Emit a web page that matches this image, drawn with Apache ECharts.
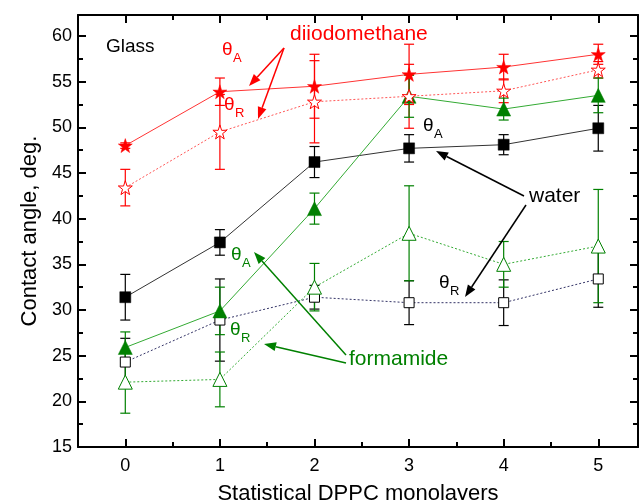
<!DOCTYPE html>
<html><head><meta charset="utf-8">
<script src="https://cdn.jsdelivr.net/npm/echarts@6/dist/echarts.min.js"></script>
<style>html,body{margin:0;padding:0;background:#fff}#c{width:640px;height:500px}</style>
</head><body><div id="c"></div>
<script>
const xCats = [0, 1, 2, 3, 4, 5];
const xTickLabels = [0, 1, 2, 3, 4, 5];
const xMinorTicks = [0.5, 1.5, 2.5, 3.5, 4.5];
const yTickLabels = [15, 20, 25, 30, 35, 40, 45, 50, 55, 60];
const yMinorTicks = [17.5, 22.5, 27.5, 32.5, 37.5, 42.5, 47.5, 52.5, 57.5];

const dimA = [48.0, 53.9, 54.5, 55.8, 56.6, 58.0];
const dimAErr = [0.3, 1.5, 3.5, 3.3, 1.4, 1.1];
const dimR = [43.4, 49.5, 52.8, 53.4, 54.0, 56.3];
const dimRErr = [2.0, 4.1, 4.5, 3.5, 1.3, 0.9];
const waterA = [31.4, 37.4, 46.2, 47.7, 48.1, 49.9];
const waterAErr = [2.5, 1.4, 1.7, 1.5, 1.1, 2.5];
const waterR = [24.3, 28.9, 31.4, 30.8, 30.8, 33.4];
const waterRErr = [2.6, 4.5, 1.3, 2.4, 2.5, 3.1];
const formA = [25.9, 29.9, 41.1, 53.4, 52.0, 53.5];
const formAErr = [1.7, 2.6, 1.7, 2.3, 1.2, 1.9];
const formR = [22.1, 22.4, 32.5, 38.4, 35.0, 37.0];
const formRErr = [3.4, 3.0, 2.6, 5.2, 2.5, 6.2];

const RED = '#ff0000', GREEN = '#008000', BLACK = '#000000';
const STAR = 'path://M50,0 L61.8,35.1 L97.6,34.5 L68.8,56.2 L79.4,90.5 L50,70 L20.6,90.5 L31.2,56.2 L2.4,34.5 L38.2,35.1 Z';
const FONT = 'Liberation Sans, Arial, sans-serif';

function pts(vals) { return xCats.map((x, i) => [x, vals[i]]); }

function errSeries(vals, errs, color) {
  return {
    type: 'custom', z: 1, silent: true,
    data: xCats.map((x, i) => [x, vals[i] - errs[i], vals[i] + errs[i]]),
    renderItem: function (params, api) {
      const lo = api.coord([api.value(0), api.value(1)]);
      const hi = api.coord([api.value(0), api.value(2)]);
      const w = 5;
      const st = { stroke: color, lineWidth: 1.2 };
      return { type: 'group', children: [
        { type: 'line', shape: { x1: lo[0], y1: lo[1], x2: hi[0], y2: hi[1] }, style: st },
        { type: 'line', shape: { x1: lo[0] - w, y1: lo[1], x2: lo[0] + w, y2: lo[1] }, style: st },
        { type: 'line', shape: { x1: hi[0] - w, y1: hi[1], x2: hi[0] + w, y2: hi[1] }, style: st }
      ]};
    }
  };
}

function lineSeries(vals, color, lineColor, symbol, size, filled, dotted) {
  return {
    type: 'line', z: 3, data: pts(vals), symbol: symbol, symbolSize: size,
    showAllSymbol: true,
    lineStyle: { color: lineColor, width: 1, type: dotted ? [2, 2] : 'solid' },
    itemStyle: filled ? { color: color, borderColor: color, borderWidth: 0.5 } : { color: '#ffffff', borderColor: color, borderWidth: 1 },
    emphasis: { disabled: true }, animation: false
  };
}

function axisX(pos, major, withLabel, name) {
  const o = {
    type: 'value', position: pos, min: -0.5, max: 5.42,
    axisLine: { show: major, onZero: false, lineStyle: { color: BLACK, width: 2 } },
    axisTick: { show: true, inside: true, length: major ? 8 : 5, lineStyle: { color: BLACK, width: 2 },
      customValues: major ? xTickLabels : xMinorTicks },
    axisLabel: { show: withLabel, customValues: xTickLabels, color: BLACK, fontSize: 18, fontFamily: FONT, margin: 10 },
    splitLine: { show: false }
  };
  if (name) { o.name = name; o.nameLocation = 'middle'; o.nameGap = 36; o.nameTextStyle = { color: BLACK, fontSize: 22, fontFamily: FONT }; }
  return o;
}
function axisY(pos, major, withLabel, name) {
  const o = {
    type: 'value', position: pos, min: 15, max: 62.3,
    axisLine: { show: major, onZero: false, lineStyle: { color: BLACK, width: 2 } },
    axisTick: { show: true, inside: true, length: major ? 8 : 5, lineStyle: { color: BLACK, width: 2 },
      customValues: major ? yTickLabels : yMinorTicks },
    axisLabel: { show: withLabel, customValues: yTickLabels, color: BLACK, fontSize: 18, fontFamily: FONT, margin: 6 },
    splitLine: { show: false }
  };
  if (name) { o.name = name; o.nameLocation = 'middle'; o.nameGap = 36; o.nameTextStyle = { color: BLACK, fontSize: 22, fontFamily: FONT }; }
  return o;
}

function txt(x, y, s, color, size, align) {
  return { type: 'text', x: x, y: y, z: 10, style: { text: s, fill: color, font: size + 'px ' + FONT, textAlign: align || 'left', textVerticalAlign: 'middle' } };
}
function theta(x, y, sub, color) {
  return [txt(x, y, 'θ', color, 19), txt(x + 11, y + 8, sub, color, 13)];
}
function arrow(x1, y1, x2, y2, color) {
  const a = Math.atan2(y2 - y1, x2 - x1), L = 12, W = 4.5;
  const bx = x2 - L * Math.cos(a), by = y2 - L * Math.sin(a);
  const px = -Math.sin(a) * W, py = Math.cos(a) * W;
  return [
    { type: 'line', z: 10, shape: { x1: x1, y1: y1, x2: bx, y2: by }, style: { stroke: color, lineWidth: 1.5 } },
    { type: 'polygon', z: 10, shape: { points: [[x2, y2], [bx + px, by + py], [bx - px, by - py]] }, style: { fill: color } }
  ];
}

const graphics = [].concat(
  [txt(106, 47, 'Glass', BLACK, 19)],
  [txt(290, 34, 'diiodomethane', RED, 21)],
  theta(222, 50, 'A', RED), theta(224, 105, 'R', RED),
  arrow(284, 48, 249, 86, RED), arrow(284, 48, 258, 119, RED),
  [txt(529, 196, 'water', BLACK, 21)],
  theta(423, 126, 'A', BLACK), theta(439, 283, 'R', BLACK),
  arrow(524, 196, 436, 151, BLACK), arrow(526, 205, 465, 297, BLACK),
  [txt(349, 359, 'formamide', GREEN, 21)],
  theta(231, 255, 'A', GREEN), theta(230, 330, 'R', GREEN),
  arrow(346, 355, 254, 252, GREEN), arrow(346, 363, 264, 344, GREEN)
);

const chart = echarts.init(document.getElementById('c'), null, { renderer: 'canvas' });
chart.setOption({
  animation: false,
  grid: { left: 78, right: 2, top: 15, bottom: 53, containLabel: false, outerBoundsMode: 'none' },
  xAxis: [axisX('bottom', true, true, 'Statistical DPPC monolayers'), axisX('bottom', false, false), axisX('top', true, false), axisX('top', false, false)],
  yAxis: [axisY('left', true, true, 'Contact angle, deg.'), axisY('left', false, false), axisY('right', true, false), axisY('right', false, false)],
  series: [
    errSeries(dimA, dimAErr, RED), errSeries(dimR, dimRErr, RED),
    errSeries(waterA, waterAErr, BLACK), errSeries(waterR, waterRErr, BLACK),
    errSeries(formA, formAErr, GREEN), errSeries(formR, formRErr, GREEN),
    lineSeries(waterR, BLACK, '#333366', 'rect', 10, false, true),
    lineSeries(waterA, BLACK, '#333333', 'rect', 11, true, false),
    lineSeries(formR, GREEN, '#33aa33', 'triangle', 14, false, true),
    lineSeries(formA, GREEN, '#33aa33', 'triangle', 14, true, false),
    lineSeries(dimR, RED, '#ff5555', STAR, 14, false, true),
    lineSeries(dimA, RED, '#ff3333', STAR, 14, true, false)
  ],
  graphic: graphics
});
</script></body></html>
